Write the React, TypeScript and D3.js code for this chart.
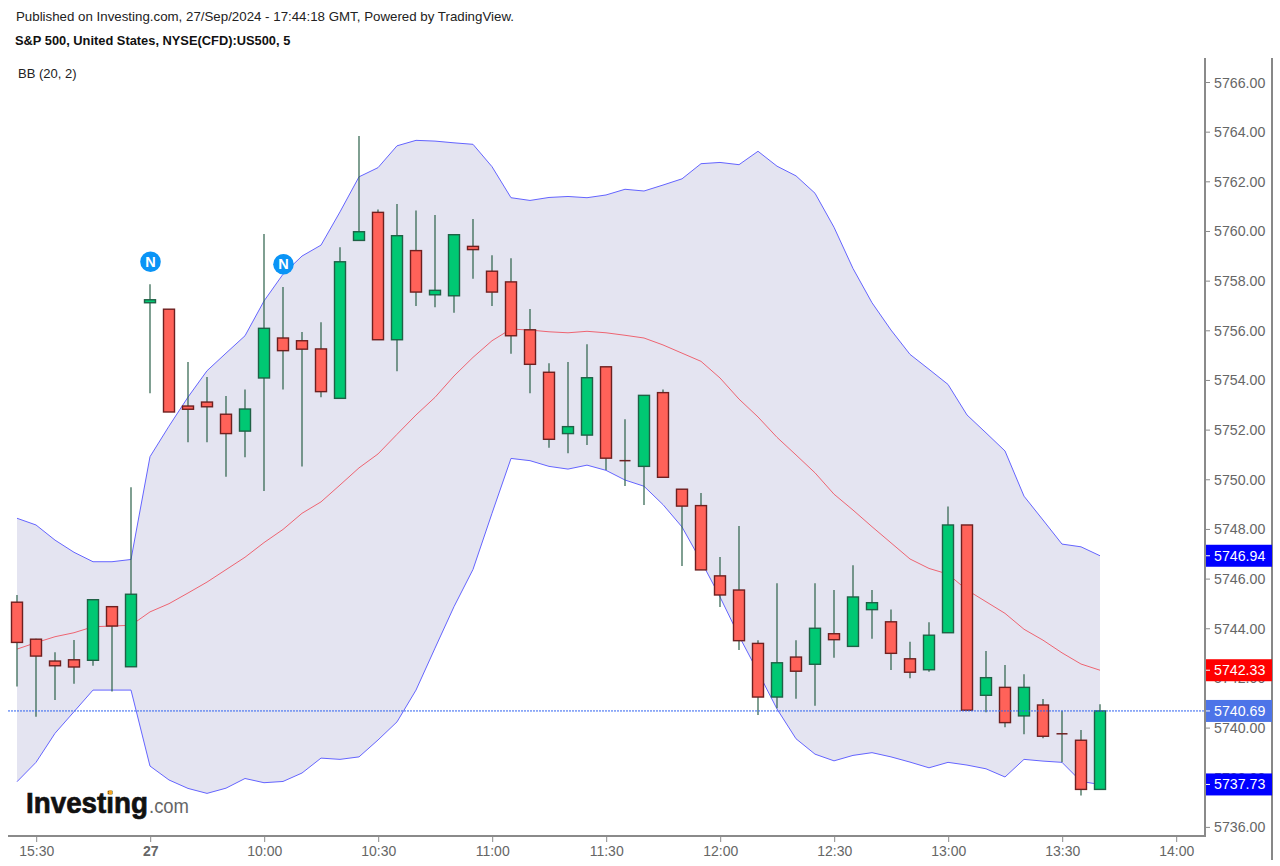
import * as d3 from "d3";

// Candles, one per 5 minute bar
const opens = [
  5745.07, 5743.58, 5742.7, 5742.75, 5742.73, 5744.89, 5742.47, 5757.13, 5756.87, 5752.97,
  5753.13, 5752.64, 5751.96, 5754.1, 5755.71, 5755.6, 5755.27, 5753.28, 5759.64, 5760.77,
  5755.64, 5759.23, 5757.45, 5757.41, 5759.4, 5758.4, 5757.97, 5756.04, 5754.33, 5751.86,
  5751.8, 5754.55, 5750.77, 5750.54, 5753.51, 5749.62, 5748.96, 5746.13, 5745.56, 5743.41,
  5741.25, 5742.86, 5742.57, 5743.8, 5743.29, 5744.77, 5744.28, 5742.79, 5742.35, 5743.84,
  5748.18, 5741.32, 5741.64, 5740.49, 5740.93, 5739.77, 5739.51, 5737.53,
];
const highs = [
  5745.36, 5743.6, 5743.05, 5743.55, 5745.2, 5744.89, 5749.7, 5757.87, 5756.87, 5754.74,
  5754.14, 5753.37, 5753.64, 5759.9, 5757.76, 5755.95, 5756.34, 5759.36, 5763.85, 5760.89,
  5761.11, 5760.84, 5760.66, 5759.87, 5760.5, 5759.04, 5758.92, 5756.88, 5754.69, 5754.74,
  5755.46, 5754.55, 5752.44, 5753.4, 5753.64, 5749.62, 5749.47, 5746.89, 5748.14, 5743.54,
  5745.83, 5743.54, 5745.83, 5745.56, 5746.56, 5745.56, 5744.78, 5743.48, 5744.26, 5748.92,
  5748.18, 5743.1, 5742.54, 5742.17, 5741.17, 5740.7, 5739.92, 5740.96,
];
const lows = [
  5741.67, 5740.46, 5741.13, 5741.79, 5742.51, 5741.47, 5742.47, 5753.48, 5752.73, 5751.51,
  5751.51, 5750.12, 5750.91, 5749.55, 5753.64, 5750.53, 5753.32, 5753.28, 5759.64, 5755.64,
  5754.37, 5757.0, 5756.95, 5756.73, 5758.1, 5757.0, 5755.08, 5753.48, 5751.29, 5751.07,
  5751.4, 5750.39, 5749.75, 5748.98, 5750.1, 5746.53, 5746.37, 5744.88, 5743.14, 5740.53,
  5740.8, 5741.18, 5740.9, 5742.83, 5743.29, 5743.6, 5742.34, 5742.01, 5742.27, 5743.84,
  5740.72, 5740.64, 5740.03, 5739.75, 5739.59, 5738.62, 5737.28, 5737.53,
];
const closes = [
  5743.45, 5742.9, 5742.51, 5742.46, 5745.17, 5744.11, 5745.39, 5757.25, 5752.73, 5752.84,
  5752.94, 5751.86, 5752.85, 5756.1, 5755.2, 5755.26, 5753.55, 5758.78, 5759.99, 5755.64,
  5759.83, 5757.56, 5757.63, 5759.87, 5759.27, 5757.56, 5755.8, 5754.65, 5751.63, 5752.14,
  5754.11, 5750.87, 5750.77, 5753.4, 5750.1, 5748.94, 5746.37, 5745.36, 5743.52, 5741.25,
  5742.63, 5742.29, 5744.02, 5743.56, 5745.28, 5745.05, 5743.01, 5742.25, 5743.74, 5748.18,
  5740.72, 5742.03, 5740.22, 5741.64, 5739.67, 5739.77, 5737.53, 5740.69,
];

// Bollinger bands (20, 2)
const bbUpper = [
  5748.45, 5748.18, 5747.57, 5747.08, 5746.7, 5746.7, 5746.79, 5750.93, 5752.16, 5753.33,
  5754.39, 5755.1, 5755.8, 5757.2, 5758.28, 5759.01, 5759.45, 5760.79, 5762.2, 5762.57,
  5763.45, 5763.67, 5763.64, 5763.57, 5763.51, 5762.61, 5761.36, 5761.25, 5761.37, 5761.41,
  5761.36, 5761.47, 5761.7, 5761.63, 5761.87, 5762.12, 5762.73, 5762.78, 5762.69, 5763.23,
  5762.63, 5762.24, 5761.54, 5760.17, 5758.51, 5757.13, 5756.03, 5755.05, 5754.45, 5753.84,
  5752.61, 5751.89, 5751.16, 5749.34, 5748.38, 5747.41, 5747.3, 5746.94,
];
const bbBasis = [
  5743.18, 5743.44, 5743.68, 5743.84, 5744.08, 5744.11, 5744.14, 5744.68, 5745.01, 5745.44,
  5745.88, 5746.38, 5746.88, 5747.47, 5748.0, 5748.65, 5749.11, 5749.79, 5750.48, 5751.04,
  5751.83, 5752.61, 5753.32, 5754.18, 5754.93, 5755.6, 5756.07, 5756.03, 5755.96, 5755.92,
  5755.98, 5755.92, 5755.82, 5755.71, 5755.43, 5755.1, 5754.77, 5754.1, 5753.25, 5752.53,
  5751.71, 5751.0, 5750.28, 5749.42, 5748.78, 5748.11, 5747.46, 5746.81, 5746.43, 5746.2,
  5745.56, 5745.09, 5744.62, 5743.98, 5743.54, 5743.03, 5742.58, 5742.33,
];
const bbLower = [
  5737.84, 5738.62, 5739.79, 5740.66, 5741.53, 5741.53, 5741.53, 5738.47, 5737.91, 5737.57,
  5737.37, 5737.58, 5737.97, 5737.8, 5737.85, 5738.19, 5738.79, 5738.74, 5738.84, 5739.52,
  5740.25, 5741.53, 5743.22, 5744.89, 5746.39, 5748.65, 5750.86, 5750.77, 5750.54, 5750.43,
  5750.59, 5750.38, 5749.99, 5749.74, 5749.0, 5748.1, 5746.73, 5745.28, 5743.71, 5742.26,
  5740.77, 5739.57, 5738.95, 5738.68, 5738.9, 5739.01, 5738.84, 5738.63, 5738.4, 5738.62,
  5738.51, 5738.36, 5738.03, 5738.74, 5738.67, 5738.62, 5737.85, 5737.73,
];

// Axes
const priceTicks = [5766, 5764, 5762, 5760, 5758, 5756, 5754, 5752, 5750, 5748, 5746, 5744, 5742, 5740, 5738, 5736];
const timeTickBars = [1, 7, 13, 19, 25, 31, 37, 43, 49, 55, 61];
const timeTickLabels = ["15:30", "27", "10:00", "10:30", "11:00", "11:30", "12:00", "12:30", "13:00", "13:30", "14:00"];

// Events and last-value tags
const newsBars = [7, 14];
const newsPrices = [5758.78, 5758.68];
const lastPrice = 5740.69;
const tagPrices = [5746.94, 5742.33, lastPrice, 5737.73];
const tagColors = ["#0000ff", "#ff0000", "#4d74e8", "#0000ff"];

const FONT = "'Liberation Sans', Arial, sans-serif";
const UP = "#00c873";
const DOWN = "#ff6259";
const UP_EDGE = "#1f6146";
const DOWN_EDGE = "#6e2020";
const WICK = "#2a6049";
const AXIS = "#8a8a8a";
const LABEL = "#666666";

const WIDTH = 1280;
const HEIGHT = 866;
const PLOT_LEFT = 8;
const PLOT_RIGHT = 1205;
const PLOT_TOP = 58;
const PLOT_BOTTOM = 836;
const BODY_W = 11;

const x = d3.scaleLinear().domain([0, 61]).range([17, 1176]);
const y = d3.scaleLinear().domain([5736, 5766]).range([827.4, 82.5]);

const bars = d3.range(closes.length);

export default function App() {
  const bandArea = d3
    .area<number>()
    .x((i) => x(i))
    .y0((i) => y(bbLower[i]))
    .y1((i) => y(bbUpper[i]));
  const lineFor = (vals: number[]) =>
    d3
      .line<number>()
      .x((i) => x(i))
      .y((i) => y(vals[i]));

  return (
    <svg
      width={WIDTH}
      height={HEIGHT}
      style={{ position: "absolute", left: 0, top: 0, display: "block", background: "#fff" }}
      fontFamily={FONT}
    >
      {/* Header */}
      <text x={16} y={21} fontSize={13.3} fill="#222">
        Published on Investing.com, 27/Sep/2024 - 17:44:18 GMT, Powered by TradingView.
      </text>
      <text x={15} y={44.5} fontSize={12.85} fontWeight={700} fill="#111">
        S&amp;P 500, United States, NYSE(CFD):US500, 5
      </text>
      <text x={18} y={78} fontSize={13} fill="#222">
        BB (20, 2)
      </text>

      {/* Bollinger bands */}
      <path d={bandArea(bars) ?? ""} fill="#e4e4f1" />
      <path d={lineFor(bbUpper)(bars) ?? ""} fill="none" stroke="#6464ff" strokeWidth={1} />
      <path d={lineFor(bbLower)(bars) ?? ""} fill="none" stroke="#6464ff" strokeWidth={1} />
      <path d={lineFor(bbBasis)(bars) ?? ""} fill="none" stroke="#ee6472" strokeWidth={1} />

      {/* Candles */}
      {bars.map((i) => {
        const up = closes[i] > opens[i];
        const top = y(Math.max(opens[i], closes[i]));
        const bottom = y(Math.min(opens[i], closes[i]));
        const cx = x(i);
        return (
          <g key={i}>
            <line x1={cx} x2={cx} y1={y(highs[i])} y2={y(lows[i])} stroke={WICK} strokeWidth={1.2} />
            {opens[i] === closes[i] ? (
              <line x1={cx - BODY_W / 2} x2={cx + BODY_W / 2} y1={top} y2={top} stroke={DOWN_EDGE} strokeWidth={1.5} />
            ) : (
              <rect
                x={cx - BODY_W / 2}
                y={top}
                width={BODY_W}
                height={bottom - top}
                fill={up ? UP : DOWN}
                stroke={up ? UP_EDGE : DOWN_EDGE}
                strokeWidth={1.4}
              />
            )}
          </g>
        );
      })}

      {/* News markers */}
      {newsBars.map((b, k) => (
        <g key={b} transform={`translate(${x(b) + 0.5},${y(newsPrices[k])})`}>
          <circle r={10.3} fill="#0a94f6" />
          <text y={5.2} textAnchor="middle" fontSize={14.5} fontWeight={700} fill="#fff">
            N
          </text>
        </g>
      ))}

      {/* Last price line */}
      <line
        x1={PLOT_LEFT}
        x2={PLOT_RIGHT}
        y1={y(lastPrice)}
        y2={y(lastPrice)}
        stroke="#2f62f0"
        strokeWidth={1}
        strokeDasharray="2 1"
      />

      {/* Logo */}
      <g>
        <text
          x={26}
          y={813}
          fontSize={29}
          fontWeight={700}
          fill="#111"
          stroke="#111"
          strokeWidth={0.7}
          textLength={122}
          lengthAdjust="spacingAndGlyphs"
        >
          Investing
        </text>
        <circle cx={110.5} cy={792.5} r={2.2} fill="#f5a623" />
        <text x={149} y={813} fontSize={20} fill="#666" textLength={40} lengthAdjust="spacingAndGlyphs">
          .com
        </text>
      </g>

      {/* Time axis */}
      <line x1={PLOT_LEFT} x2={PLOT_RIGHT + 1} y1={PLOT_BOTTOM} y2={PLOT_BOTTOM} stroke={AXIS} strokeWidth={2} />
      {timeTickBars.map((b, k) => (
        <g key={b} transform={`translate(${x(b) + 0.7},0)`}>
          <line y1={PLOT_BOTTOM} y2={PLOT_BOTTOM + 6} stroke={AXIS} strokeWidth={1} />
          <text
            y={855.5}
            textAnchor="middle"
            fontSize={14}
            fill={LABEL}
            fontWeight={timeTickLabels[k] === "27" ? 700 : 400}
          >
            {timeTickLabels[k]}
          </text>
        </g>
      ))}

      {/* Price axis */}
      <line x1={PLOT_RIGHT} x2={PLOT_RIGHT} y1={PLOT_TOP} y2={PLOT_BOTTOM + 1} stroke={AXIS} strokeWidth={2} />
      <line x1={1272} x2={1272} y1={PLOT_TOP} y2={860} stroke="#111" strokeWidth={1} />
      {priceTicks.map((t) => (
        <g key={t} transform={`translate(0,${y(t)})`}>
          <line x1={PLOT_RIGHT} x2={PLOT_RIGHT + 5} stroke={AXIS} strokeWidth={1} />
          <text x={1214} y={5} fontSize={14.2} fill={LABEL}>
            {t.toFixed(2)}
          </text>
        </g>
      ))}

      {/* Last value tags */}
      {tagPrices.map((p, k) => (
        <g key={p} transform={`translate(0,${y(p)})`}>
          <rect x={PLOT_RIGHT + 1} y={-11} width={1272 - PLOT_RIGHT - 1} height={22} fill={tagColors[k]} />
          <line x1={PLOT_RIGHT + 1} x2={PLOT_RIGHT + 5} stroke="#fff" strokeWidth={1} />
          <text x={1214} y={5} fontSize={14.2} fill="#fff">
            {p.toFixed(2)}
          </text>
        </g>
      ))}
    </svg>
  );
}
